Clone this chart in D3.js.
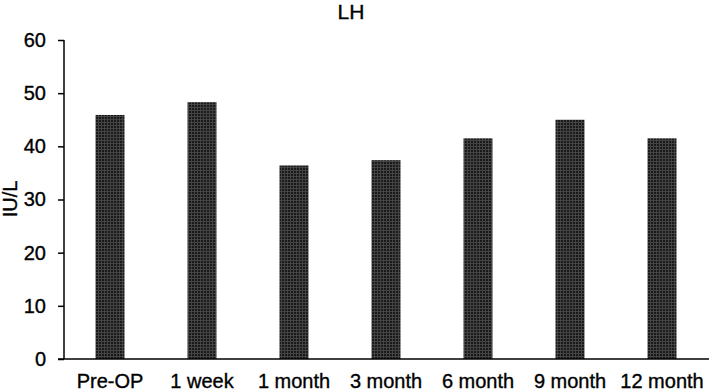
<!DOCTYPE html>
<html>
<head>
<meta charset="utf-8">
<script src="https://cdn.jsdelivr.net/npm/d3@7"></script>
<style>
html,body{margin:0;padding:0;background:#fff;}
svg{display:block;}
text{font-family:"Liberation Sans",Arial,sans-serif;fill:#000;stroke:#000;stroke-width:0.35px;}
</style>
</head>
<body>
<svg id="chart" width="709" height="391"></svg>
<script>
const categories = ["Pre-OP","1 week","1 month","3 month","6 month","9 month","12 month"];
const values = [45.9, 48.3, 36.4, 37.4, 41.5, 45.0, 41.5];
const yTicks = [0,10,20,30,40,50,60];
const title = "LH";
const yLabel = "IU/L";

(function(){
const svg = d3.select("#chart");
const W = 709, H = 391;
const mLeft = 64, mRight = 708, mTop = 40, mBottom = 359;

const defs = svg.append("defs");
const pat = defs.append("pattern").attr("id","dots").attr("width",3).attr("height",3).attr("patternUnits","userSpaceOnUse");
pat.append("rect").attr("width",3).attr("height",3).attr("fill","#444");
pat.append("rect").attr("width",2).attr("height",2).attr("fill","#1a1a1a");

const x = d3.scaleBand().domain(categories).range([mLeft,mRight]).paddingInner(0.685).paddingOuter(0.3425);
const y = d3.scaleLinear().domain([0,60]).range([mBottom,mTop]);

svg.append("g").selectAll("rect").data(values).join("rect")
  .attr("x",(d,i)=>x(categories[i]))
  .attr("width",x.bandwidth())
  .attr("y",d=>y(d))
  .attr("height",d=>y(0)-y(d))
  .attr("fill","url(#dots)");

const yAxis = svg.append("g").attr("transform",`translate(${mLeft},0)`)
  .call(d3.axisLeft(y).tickValues(yTicks).tickSize(6).tickPadding(12));
yAxis.select(".domain").attr("d",`M0,${mTop}V${mBottom}`).attr("stroke","#000").attr("stroke-width",1.5);
yAxis.selectAll(".tick line").attr("stroke","#000").attr("stroke-width",1.5);
yAxis.selectAll(".tick text").attr("font-size",20).attr("font-family","Liberation Sans, Arial, sans-serif").attr("fill","#000");

const xAxis = svg.append("g").attr("transform",`translate(0,${mBottom})`)
  .call(d3.axisBottom(x).tickSize(0).tickPadding(15));
xAxis.select(".domain").attr("d",`M${mLeft-6},0H${W}`).attr("stroke","#000").attr("stroke-width",1.5);
xAxis.selectAll(".tick text").attr("font-size",20).attr("font-family","Liberation Sans, Arial, sans-serif").attr("fill","#000");

svg.append("text").attr("x",351).attr("y",19).attr("text-anchor","middle").attr("font-size",21).text(title);
svg.append("text").attr("transform","translate(17,199) rotate(-90)").attr("text-anchor","middle").attr("font-size",20).text(yLabel);
})();
</script>
</body>
</html>
